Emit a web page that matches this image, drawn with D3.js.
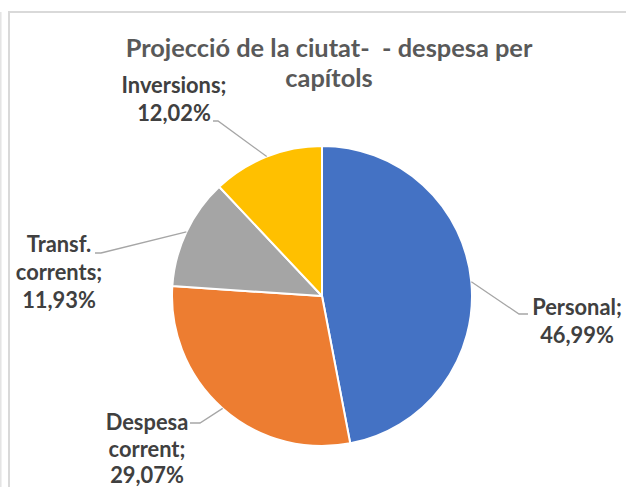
<!DOCTYPE html>
<html><head><meta charset="utf-8">
<script src="https://cdn.jsdelivr.net/npm/d3@7"></script>
<style>body{margin:0;background:#fff;overflow:hidden} svg{display:block} text{white-space:pre}</style>
</head><body><svg id="c" width="626" height="487"></svg>
<script>
// ---- data ----
const categories = ["Personal", "Despesa corrent", "Transf. corrents", "Inversions"];
const values = [46.99, 29.07, 11.93, 12.02];
const nameLines = [["Personal;"], ["Despesa", "corrent;"], ["Transf.", "corrents;"], ["Inversions;"]];
const colors = ["#4472C4", "#ED7D31", "#A5A5A5", "#FFC000"];
const titleLines = ["Projecció de la ciutat-\u00A0 - despesa per", "capítols"];

// ---- layout ----
const W = 626, H = 487;
const cx = 322, cy = 296, R = 150;
const FONT = "Lato, 'Open Sans', sans-serif";
const labelLayout = [
  { x: 577, y: 315, lh: 28, end: [528, 314], elbow: [519, 314] },
  { x: 147, y: 430, lh: 26.5, end: [190, 423], elbow: [200, 423] },
  { x: 59,  y: 252, lh: 28, end: [95, 253], elbow: [101, 253] },
  { x: 174, y: 93,  lh: 28, end: [213, 121], elbow: [218, 121] }
];

const fmt = d3.formatLocale({ decimal: ",", thousands: ".", grouping: [3], currency: ["", "€"] }).format(".2f");

const svg = d3.select("#c");
svg.append("rect").attr("width", W).attr("height", H).attr("fill", "#fff");
// frame
svg.append("line").attr("x1", 0.8).attr("x2", 0.8).attr("y1", 12).attr("y2", H)
  .attr("stroke", "#e3e3e3").attr("stroke-width", 1.5);
svg.append("rect").attr("x", 9).attr("y", 12).attr("width", 700).attr("height", 600)
  .attr("fill", "none").attr("stroke", "#d9d9d9").attr("stroke-width", 2);

// title
const title = svg.append("g").attr("fill", "#595959").attr("font-family", FONT).attr("font-weight", "bold")
  .attr("text-anchor", "middle");
const t1 = title.append("text").attr("x", 329).attr("y", 57).attr("font-size", 20).text(titleLines[0]);
const tSize = 20 * 407 / t1.node().getComputedTextLength();
t1.attr("font-size", tSize);
title.append("text").attr("x", 329).attr("y", 87).attr("font-size", tSize).text(titleLines[1]);

// pie
const data = categories.map((c, i) => ({ name: c, value: values[i], i }));
const pie = d3.pie().value(d => d.value).sort(null);
const arcs = pie(data);
const arc = d3.arc().innerRadius(0).outerRadius(R);
const g = svg.append("g").attr("transform", `translate(${cx},${cy})`);
g.selectAll("path").data(arcs).join("path")
  .attr("d", arc).attr("fill", d => colors[d.data.i])
  .attr("stroke", "#fff").attr("stroke-width", 2).attr("stroke-linejoin", "round");

// leader lines
const edge = d3.arc().innerRadius(R).outerRadius(R);
svg.append("g").selectAll("polyline").data(arcs).join("polyline")
  .attr("points", d => {
    const L = labelLayout[d.data.i];
    const c = edge.centroid(d);
    return [[cx + c[0], cy + c[1]], L.elbow, L.end].map(p => p.join(",")).join(" ");
  })
  .attr("fill", "none").attr("stroke", "#a6a6a6").attr("stroke-width", 1.3);

// labels
const lg = svg.append("g").attr("fill", "#404040").attr("font-family", FONT).attr("font-weight", "bold")
  .attr("text-anchor", "middle");
const probe = lg.append("text").attr("font-size", 20).text("Inversions;");
const lSize = 20 * 105 / probe.node().getComputedTextLength();
probe.remove();
arcs.forEach(d => {
  const i = d.data.i, L = labelLayout[i];
  const lines = nameLines[i].concat([fmt(values[i]) + "%"]);
  lines.forEach((s, k) => {
    lg.append("text").attr("x", L.x).attr("y", L.y + k * L.lh).attr("font-size", lSize).text(s);
  });
});
</script>
</body></html>
